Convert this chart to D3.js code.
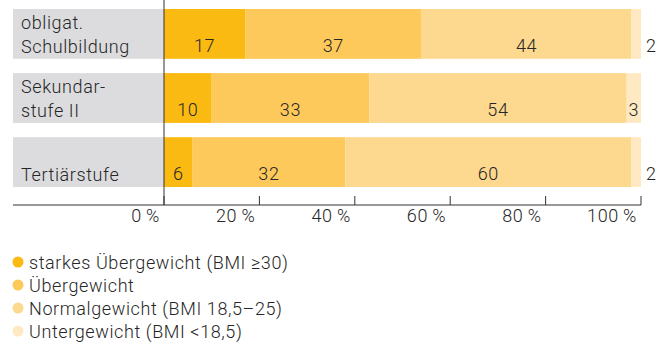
<!DOCTYPE html>
<html><head><meta charset="utf-8">
<script src="https://cdn.jsdelivr.net/npm/d3@7"></script>
<style>
body{margin:0;background:#fff;}
svg text{font-family:Roboto, "DejaVu Sans", sans-serif;fill:#262626;font-weight:300;}
</style></head><body>
<svg id="c" width="668" height="345"></svg>
<script>
const categories = [["obligat.", "Schulbildung"], ["Sekundar-", "stufe II"], ["Tertiärstufe"]];
const seriesNames = ["starkes Übergewicht (BMI \u226530)", "Übergewicht", "Normalgewicht (BMI 18,5–25)", "Untergewicht (BMI <18,5)"];
const starkes = [17, 10, 6];
const ueber = [37, 33, 32];
const normal = [44, 54, 60];
const unter = [2, 3, 2];
const ticks = [0, 20, 40, 60, 80, 100];
const colors = ["#FBBA12", "#FEC95B", "#FDD88F", "#FEE9C3"];

const FS = 18, LS = 0.6;
const svg = d3.select("#c");
const x = d3.scaleLinear().domain([0, 100]).range([164, 641]);
const y = d3.scaleBand().domain(d3.range(categories.length)).range([9, 187]).paddingInner(0.223).paddingOuter(0);

const rows = categories.map((c, i) => ({i, vals: [starkes[i], ueber[i], normal[i], unter[i]]}));
const stack = d3.stack().keys([0,1,2,3]).value((d, k) => d.vals[k]);
const layers = stack(rows);

svg.selectAll("rect.lab").data(rows).join("rect")
  .attr("x", 13).attr("y", d => y(d.i)).attr("width", x(0) - 13).attr("height", y.bandwidth())
  .attr("fill", "#DCDCDE");

svg.selectAll("text.cat").data(rows).join("text")
  .attr("x", 21).attr("font-size", FS).attr("letter-spacing", LS)
  .each(function(d){
    const lines = categories[d.i];
    const base = y(d.i) + y.bandwidth() - 6;
    d3.select(this).selectAll("tspan").data(lines).join("tspan")
      .attr("x", 21).attr("y", (l, j) => base - (lines.length - 1 - j) * 24).text(l => l);
  });

layers.forEach((layer, k) => {
  svg.selectAll("rect.s" + k).data(layer).join("rect")
    .attr("x", d => x(d[0])).attr("y", (d, i) => y(i))
    .attr("width", d => x(d[1]) - x(d[0])).attr("height", y.bandwidth())
    .attr("fill", colors[k]);
  svg.selectAll("text.v" + k).data(layer).join("text")
    .attr("font-size", FS).attr("letter-spacing", LS)
    .attr("text-anchor", d => (d[1]-d[0]) < 3 ? "start" : "middle")
    .attr("x", d => (d[1]-d[0]) < 3 ? x(d[1]) + 5 : (x(d[0]) + x(d[1])) / 2)
    .attr("y", (d, i) => y(i) + y.bandwidth() - 7)
    .text(d => d[1] - d[0]);
});

const axisY = 205;
const ax = svg.append("g");
ax.append("line").attr("x1", 13).attr("x2", x(100)).attr("y1", axisY).attr("y2", axisY).attr("stroke", "#333").attr("stroke-width", 1);
ax.append("line").attr("x1", x(0)).attr("x2", x(0)).attr("y1", 0).attr("y2", axisY).attr("stroke", "#333").attr("stroke-width", 1);
ax.selectAll("line.t").data(ticks).join("line")
  .attr("x1", d => x(d)).attr("x2", d => x(d)).attr("y1", axisY - 9).attr("y2", axisY).attr("stroke", "#333");
ax.selectAll("text.t").data(ticks).join("text")
  .attr("x", d => x(d) - 4).attr("y", axisY + 17).attr("text-anchor", "end")
  .attr("font-size", FS).attr("letter-spacing", LS)
  .text(d => d + "\u2009%");

const lg = svg.selectAll("g.lg").data(seriesNames).join("g")
  .attr("transform", (d, i) => `translate(0,${262 + i * 23})`);
lg.append("circle").attr("cx", 18).attr("cy", 0).attr("r", 5.5).attr("fill", (d, i) => colors[i]);
lg.append("text").attr("x", 29).attr("y", 6.5).attr("font-size", FS).attr("letter-spacing", LS).text(d => d);
</script></body></html>
